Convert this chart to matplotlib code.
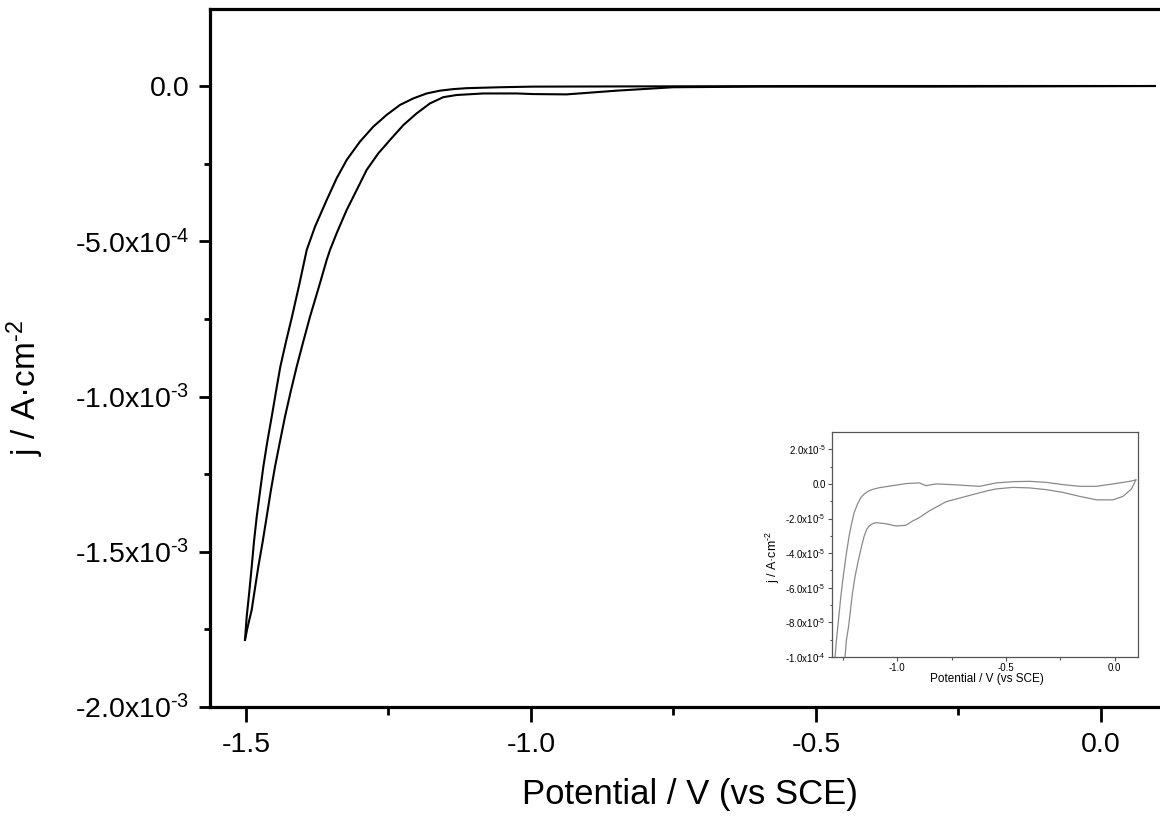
import matplotlib
matplotlib.use("Agg")
import matplotlib.pyplot as plt
import numpy as np

plt.rcParams['font.family'] = ['Liberation Sans', 'DejaVu Sans']
plt.rcParams['mathtext.fontset'] = 'custom'
plt.rcParams['mathtext.rm'] = 'Liberation Sans'
plt.rcParams['mathtext.it'] = 'Liberation Sans:italic'
plt.rcParams['mathtext.bf'] = 'Liberation Sans:bold'
plt.rcParams['mathtext.sf'] = 'Liberation Sans'
plt.rcParams['axes.unicode_minus'] = False

# ---------------- data (main plot) ----------------
# current values in units of 1e-4 A/cm^2
# cathodic sweep 0.1 V -> -1.5 V (inner branch)
cath_potential = [0.095, -0.30, -0.60, -0.7504, -0.8496, -0.9374, -0.996, -1.0251,
                  -1.0837, -1.1304, -1.1539, -1.1772, -1.2005, -1.224, -1.2474,
                  -1.2679, -1.2882, -1.3058, -1.3233, -1.3409, -1.3526, -1.3584,
                  -1.3702, -1.3877, -1.3995, -1.4111, -1.4216, -1.4316, -1.4404,
                  -1.4491, -1.4567, -1.4637, -1.4707, -1.4784, -1.4842, -1.4900,
                  -1.4975, -1.5018]
cath_current_e4 = [0.0, -0.02, -0.02, -0.04, -0.15, -0.27, -0.26, -0.24,
                   -0.24, -0.29, -0.36, -0.56, -0.88, -1.26, -1.74,
                   -2.17, -2.70, -3.35, -3.99, -4.74, -5.28, -5.60,
                   -6.35, -7.43, -8.23, -9.04, -9.84, -10.65, -11.45,
                   -12.26, -13.06, -13.87, -14.67, -15.48, -16.17, -16.87,
                   -17.45, -17.84]
# anodic return sweep -1.5 V -> 0.1 V (outer branch)
anod_potential = [-1.5018, -1.4988, -1.4942, -1.4900, -1.4860, -1.4812, -1.4754,
                  -1.4696, -1.4626, -1.4549, -1.4474, -1.4398, -1.4298, -1.4193,
                  -1.4060, -1.3935, -1.3789, -1.3584, -1.3409, -1.3233, -1.3000,
                  -1.2767, -1.2532, -1.2298, -1.2065, -1.1830, -1.1596, -1.1363,
                  -1.1128, -1.0544, -0.9965, -0.50, 0.095]
anod_current_e4 = [-17.84, -17.09, -16.28, -15.48, -14.67, -13.87, -13.06,
                   -12.26, -11.45, -10.65, -9.84, -9.04, -8.23, -7.43,
                   -6.35, -5.28, -4.53, -3.67, -2.97, -2.38, -1.79,
                   -1.31, -0.93, -0.61, -0.40, -0.24, -0.15, -0.10,
                   -0.07, -0.04, -0.02, 0.0, 0.0]

x_ticks = [-1.5, -1.0, -0.5, 0.0]
x_tick_labels = ["-1.5", "-1.0", "-0.5", "0.0"]
y_ticks = [0.0, -5e-4, -1e-3, -1.5e-3, -2e-3]
y_tick_labels = ["0.0", r"-5.0x10$^{\text{-4}}$", r"-1.0x10$^{\text{-3}}$",
                 r"-1.5x10$^{\text{-3}}$", r"-2.0x10$^{\text{-3}}$"]

# ---------------- data (inset) ----------------
# current values in units of 1e-5 A/cm^2
inset_cath_potential = [0.097, 0.077, 0.038, -0.008, -0.084, -0.161, -0.238, -0.315,
                        -0.392, -0.469, -0.545, -0.584, -0.684, -0.776, -0.853,
                        -0.899, -0.929, -0.960, -1.006, -1.052, -1.098, -1.114,
                        -1.129, -1.140, -1.152, -1.164, -1.178, -1.194, -1.206,
                        -1.215, -1.224, -1.234, -1.240, -1.248]
inset_cath_current_e5 = [0.23, -0.29, -0.72, -0.92, -0.92, -0.72, -0.49, -0.33,
                         -0.23, -0.20, -0.29, -0.39, -0.72, -1.03, -1.56,
                         -1.95, -2.14, -2.39, -2.43, -2.30, -2.24, -2.30,
                         -2.43, -2.62, -3.01, -3.60, -4.37, -5.35, -6.32,
                         -7.29, -8.26, -9.04, -10.0, -11.5]
inset_anod_potential = [-1.292, -1.2857, -1.2796, -1.2733, -1.2673, -1.2594, -1.2521,
                        -1.2442, -1.2336, -1.2212, -1.2106, -1.1982, -1.1829,
                        -1.1673, -1.1489, -1.1290, -1.1060, -1.0829, -1.0217,
                        -0.9599, -0.8986, -0.8677, -0.8217, -0.747, -0.622, -0.545,
                        -0.469, -0.392, -0.315, -0.238, -0.161, -0.084, -0.008,
                        0.069, 0.097]
inset_anod_current_e5 = [-11.0, -10.01, -9.04, -8.26, -7.49, -6.51, -5.74,
                         -4.96, -3.99, -3.01, -2.33, -1.66, -1.17,
                         -0.78, -0.55, -0.39, -0.29, -0.22, -0.10,
                         0.02, 0.06, -0.10, 0.0, -0.04, -0.14, 0.06,
                         0.13, 0.15, 0.09, -0.04, -0.14, -0.14, 0.0,
                         0.15, 0.23]

inset_x_ticks = [-1.0, -0.5, 0.0]
inset_x_tick_labels = ["-1.0", "-0.5", "0.0"]
inset_y_ticks = [2e-5, 0.0, -2e-5, -4e-5, -6e-5, -8e-5, -1e-4]
inset_y_tick_labels = [r"2.0x10$^{\text{-5}}$", "0.0", r"-2.0x10$^{\text{-5}}$",
                       r"-4.0x10$^{\text{-5}}$", r"-6.0x10$^{\text{-5}}$",
                       r"-8.0x10$^{\text{-5}}$", r"-1.0x10$^{\text{-4}}$"]

# ---------------- figure ----------------
W, H = 1160, 822
fig = plt.figure(figsize=(W / 100, H / 100), dpi=100)

# main axes (right spine lies just beyond the image edge)
ax = fig.add_axes([210 / W, 1 - 707 / H, (1166 - 210) / W, (707 - 9) / H])
ax.plot(cath_potential, np.array(cath_current_e4) * 1e-4, color='black', lw=1.5)
ax.plot(anod_potential, np.array(anod_current_e4) * 1e-4, color='black', lw=1.5)
ax.set_xlim(-1.5632, 0.1144)
ax.set_ylim(-2e-3, 2.48e-4)
ax.set_xticks(x_ticks)
ax.set_xticklabels(x_tick_labels)
ax.set_yticks(y_ticks)
ax.set_yticklabels(y_tick_labels)
ax.set_xticks([-1.25, -0.75, -0.25], minor=True)
ax.set_yticks([-2.5e-4, -7.5e-4, -1.25e-3, -1.75e-3], minor=True)
for s in ax.spines.values():
    s.set_linewidth(2.3)
ax.tick_params(which='major', direction='out', length=8, width=2, labelsize=20.5,
               pad=7, top=False, right=False)
ax.tick_params(which='minor', direction='out', length=4, width=2,
               top=False, right=False)
ax.tick_params(axis='x', which='major', length=11)
ax.tick_params(axis='x', which='minor', length=6)
fig.text(690 / W, 1 - 794 / H, "Potential / V (vs SCE)", fontsize=25,
         ha='center', va='center')
fig.text(25 / W, 1 - 388 / H, r"j / A·cm$^{\text{-2}}$", fontsize=24, rotation=90,
         ha='center', va='center')

# inset
iax = fig.add_axes([832 / W, 1 - 657 / H, (1138 - 832) / W, (657 - 432) / H])
gray = '#8a8a8a'
iax.plot(inset_cath_potential, np.array(inset_cath_current_e5) * 1e-5,
         color=gray, lw=0.9)
iax.plot(inset_anod_potential, np.array(inset_anod_current_e5) * 1e-5,
         color=gray, lw=0.9)
iax.set_xlim(-1.30, 0.107)
iax.set_ylim(-1e-4, 3e-5)
iax.set_xticks(inset_x_ticks)
iax.set_xticklabels(inset_x_tick_labels)
iax.set_yticks(inset_y_ticks)
iax.set_yticklabels(inset_y_tick_labels)
iax.set_xticks([-1.25, -0.75, -0.25], minor=True)
iax.set_yticks([1e-5, -1e-5, -3e-5, -5e-5, -7e-5, -9e-5], minor=True)
for s in iax.spines.values():
    s.set_linewidth(0.9)
    s.set_color('#555555')
iax.tick_params(which='major', direction='out', length=3, width=0.8, labelsize=7,
                pad=1.5, color='#555555')
iax.tick_params(which='minor', direction='out', length=1.8, width=0.8,
                color='#555555')
fig.text(987 / W, 1 - 679 / H, "Potential / V (vs SCE)", fontsize=8.5,
         ha='center', va='center')
fig.text(773 / W, 1 - 557 / H, r"j / A·cm$^{\text{-2}}$", fontsize=9, rotation=90,
         ha='center', va='center')

fig.savefig("out.png", dpi=100)
